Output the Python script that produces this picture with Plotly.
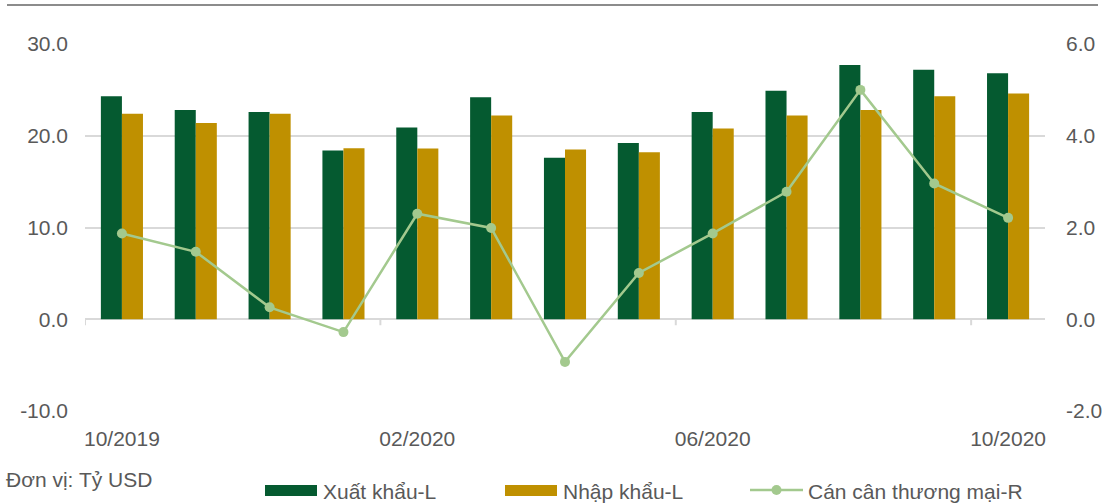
import plotly.graph_objects as go

months = ["10/2019", "11/2019", "12/2019", "01/2020", "02/2020", "03/2020", "04/2020",
          "05/2020", "06/2020", "07/2020", "08/2020", "09/2020", "10/2020"]
xuat_khau = [24.3, 22.8, 22.6, 18.4, 20.9, 24.2, 17.6, 19.2, 22.6, 24.9, 27.7, 27.2, 26.8]
nhap_khau = [22.4, 21.4, 22.4, 18.65, 18.6, 22.2, 18.5, 18.2, 20.8, 22.2, 22.8, 24.3, 24.6]
can_can = [1.87, 1.47, 0.26, -0.28, 2.30, 1.99, -0.93, 1.01, 1.87, 2.78, 5.0, 2.96, 2.21]
tick_labels = ["10/2019", "02/2020", "06/2020", "10/2020"]
left_ticks = [-10, 0, 10, 20, 30]
left_ticktext = ["-10.0", "0.0", "10.0", "20.0", "30.0"]
right_ticks = [-2, 0, 2, 4, 6]
right_ticktext = ["-2.0", "0.0", "2.0", "4.0", "6.0"]

GREEN = "#055A30"
GOLD = "#BF9000"
LIGHT = "#A3C98E"
GRID = "#D9D9D9"
TXT = "#595959"
FONT = "Liberation Sans, Arial, sans-serif"
FS = 21

fig = go.Figure()
fig.add_trace(go.Bar(x=months, y=xuat_khau, name="Xuất khẩu-L", marker_color=GREEN,
                     marker_line_width=0, showlegend=False))
fig.add_trace(go.Bar(x=months, y=nhap_khau, name="Nhập khẩu-L", marker_color=GOLD,
                     marker_line_width=0, showlegend=False))
fig.add_trace(go.Scatter(x=months, y=can_can, name="Cán cân thương mại-R", yaxis="y2",
                         mode="lines+markers", line=dict(color=LIGHT, width=2.5),
                         marker=dict(color=LIGHT, size=10), showlegend=False))

W, H = 1104, 504
L, R, T, B = 85, 59, 44, 93
pw, ph = W - L - R, H - T - B


def px(xp):
    return (xp - L) / pw


def py(yp):
    return (H - B - yp) / ph


shapes = []
# decorative top rule
shapes.append(dict(type="line", xref="paper", yref="paper", x0=px(7), x1=px(1098),
                   y0=py(5), y1=py(5), line=dict(color="#8C8C8C", width=2)))
# tick marks hanging from the zero line at category boundaries
for t in tick_labels:
    b = months.index(t) - 0.5
    shapes.append(dict(type="line", xref="x", yref="y", ysizemode="pixel", yanchor=0,
                       x0=b, x1=b, y0=0, y1=-6, line=dict(color=GRID, width=2)))

# custom legend
legend_items = [("Xuất khẩu-L", GREEN, "bar", 265), ("Nhập khẩu-L", GOLD, "bar", 505),
                ("Cán cân thương mại-R", LIGHT, "line", 750)]
annotations = []
for name, col, kind, x0 in legend_items:
    if kind == "bar":
        shapes.append(dict(type="rect", xref="paper", yref="paper", x0=px(x0), x1=px(x0 + 52),
                           y0=py(496), y1=py(485), fillcolor=col, line=dict(width=0)))
    else:
        shapes.append(dict(type="line", xref="paper", yref="paper", x0=px(x0), x1=px(x0 + 53),
                           y0=py(490), y1=py(490), line=dict(color=col, width=2.5)))
        shapes.append(dict(type="circle", xref="paper", yref="paper", xsizemode="pixel",
                           ysizemode="pixel", xanchor=px(x0 + 26.5), yanchor=py(490),
                           x0=-5, x1=5, y0=-5, y1=5, fillcolor=col, line=dict(width=0)))
    annotations.append(dict(text=name, xref="paper", yref="paper", x=px(x0 + 56), y=py(491),
                            xanchor="left", yanchor="middle", showarrow=False,
                            font=dict(size=FS, color=TXT, family=FONT)))

annotations.append(dict(text="Đơn vị: Tỷ USD", xref="paper", yref="paper", x=px(4), y=py(479),
                        xanchor="left", yanchor="middle", showarrow=False,
                        font=dict(size=FS, color=TXT, family=FONT)))

fig.update_layout(
    width=W, height=H,
    margin=dict(l=L, r=R, t=T, b=B, pad=0, autoexpand=False),
    paper_bgcolor="white", plot_bgcolor="white",
    barmode="group", bargap=0.43, bargroupgap=0,
    font=dict(family=FONT, size=FS, color=TXT),
    shapes=shapes, annotations=annotations,
    xaxis=dict(type="category", categoryorder="array", categoryarray=months,
               tickmode="array", tickvals=tick_labels, ticktext=tick_labels,
               showgrid=False, showline=False, ticks="", zeroline=False, automargin=False,
               range=[-0.5, len(months) - 0.5], ticklabelstandoff=13,
               tickfont=dict(size=FS, color=TXT)),
    yaxis=dict(range=[-10, 30], tickmode="array", tickvals=left_ticks, ticktext=left_ticktext,
               showgrid=True, gridcolor=GRID, gridwidth=2, automargin=False,
               zeroline=True, zerolinecolor=GRID, zerolinewidth=2,
               showline=False, ticks="", ticklabelstandoff=16,
               tickfont=dict(size=FS, color=TXT)),
    yaxis2=dict(range=[-2, 6], tickmode="array", tickvals=right_ticks, ticktext=right_ticktext,
                overlaying="y", side="right", showgrid=False, zeroline=False, automargin=False,
                showline=False, ticks="", ticklabelstandoff=20,
                tickfont=dict(size=FS, color=TXT)),
)

fig.write_html("out.html")
